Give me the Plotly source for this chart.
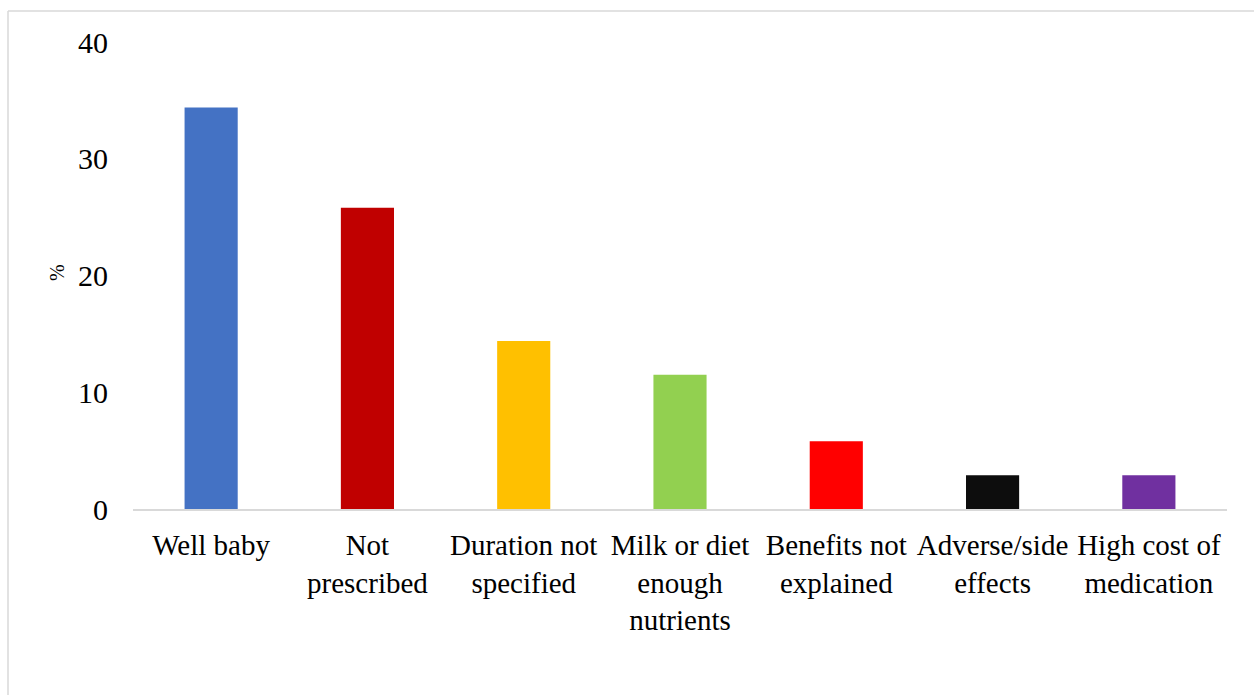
import plotly.graph_objects as go

categories = ["Well baby", "Not<br>prescribed", "Duration not<br>specified",
              "Milk or diet<br>enough<br>nutrients", "Benefits not<br>explained",
              "Adverse/side<br>effects", "High cost of<br>medication"]
values = [34.4, 25.8, 14.4, 11.5, 5.8, 2.9, 2.9]
colors = ["#4472C4", "#C00000", "#FFC000", "#92D050", "#FF0000", "#0D0D0D", "#7030A0"]
y_ticks = [0, 10, 20, 30, 40]

W, H = 1254, 695
L, R, T, B = 133, 27, 42, 186
pw, ph = W - L - R, H - T - B

FONT = "Liberation Serif"

fig = go.Figure(go.Bar(x=categories, y=values, marker_color=colors, width=0.34,
                       marker_line_width=0))

fig.update_layout(
    width=W, height=H,
    margin=dict(l=L, r=R, t=T, b=B),
    paper_bgcolor="white", plot_bgcolor="white",
    font=dict(family=FONT, color="#000000", size=29),
    showlegend=False,
    xaxis=dict(showline=True, linecolor="#D9D9D9", linewidth=2, ticks="",
               showgrid=False, tickfont=dict(family=FONT, size=29), ticklabelstandoff=9),
    yaxis=dict(range=[0, 40], tickvals=y_ticks, showgrid=False, zeroline=False,
               showline=False, ticks="", tickfont=dict(family=FONT, size=30), ticklabelstandoff=24),
    annotations=[dict(text="%", x=(57 - L) / pw, y=(509 - 273) / ph, xref="paper", yref="paper",
                      xanchor="center", yanchor="middle",
                      showarrow=False, textangle=-90, font=dict(family=FONT, size=20))],
    shapes=[
        dict(type="line", xref="paper", yref="paper", x0=(8 - L) / pw, x1=(W + 5 - L) / pw,
             y0=(509 - 11) / ph, y1=(509 - 11) / ph, line=dict(color="#D9D9D9", width=1.5)),
        dict(type="line", xref="paper", yref="paper", x0=(8 - L) / pw, x1=(8 - L) / pw,
             y0=(509 - 11) / ph, y1=(509 - H - 5) / ph, line=dict(color="#D9D9D9", width=1.5)),
    ],
)

fig.write_html("out.html")
